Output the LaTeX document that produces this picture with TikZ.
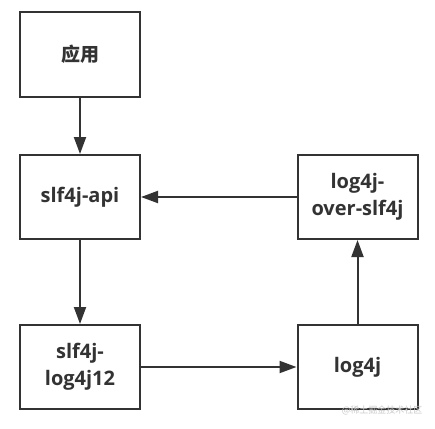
\documentclass[tikz,border=0pt]{standalone}
\usepackage{fontspec}
\setmainfont{Open Sans}
\newfontfamily\cjkfont{Noto Sans CJK SC}
\usetikzlibrary{positioning,arrows.meta}
\definecolor{boxgray}{HTML}{333333}
\definecolor{markgray}{HTML}{C8C8C8}

\begin{document}
\begin{tikzpicture}[x=1pt, y=1pt,
      box/.style={rectangle, draw=boxgray, line width=2pt, fill=white,
        minimum width=120pt, minimum height=84pt, inner sep=2pt,
        align=center, text=boxgray, font=\fontsize{20}{27}\selectfont\bfseries},
      arr/.style={-{Triangle[length=17pt, width=12pt]}, line width=2pt, color=boxgray}
    ]
      \useasboundingbox (0,0) rectangle (435,-428);
      \node[box] (app)  at (80,-54.5)   {\cjkfont\fontsize{19}{27}\selectfont 应用};
      \node[box] (api)  at (80,-197)    {slf4j-api};
      \node[box] (bind) at (80,-367)    {slf4j-\\log4j12};
      \node[box] (over) at (357.5,-197) {log4j-\\over-slf4j};
      \node[box] (impl) at (357.5,-367) {log4j};
      \draw[arr] (app)--(api); \draw[arr] (api)--(bind); \draw[arr] (bind)--(impl);
      \draw[arr] (impl)--(over); \draw[arr] (over)--(api);
      % watermark
      \node[anchor=east, text=markgray, font=\cjkfont\fontsize{9}{10}\selectfont] (mark) at (426,-410) {@稀土掘金技术社区};
    \end{tikzpicture}
\end{document}
